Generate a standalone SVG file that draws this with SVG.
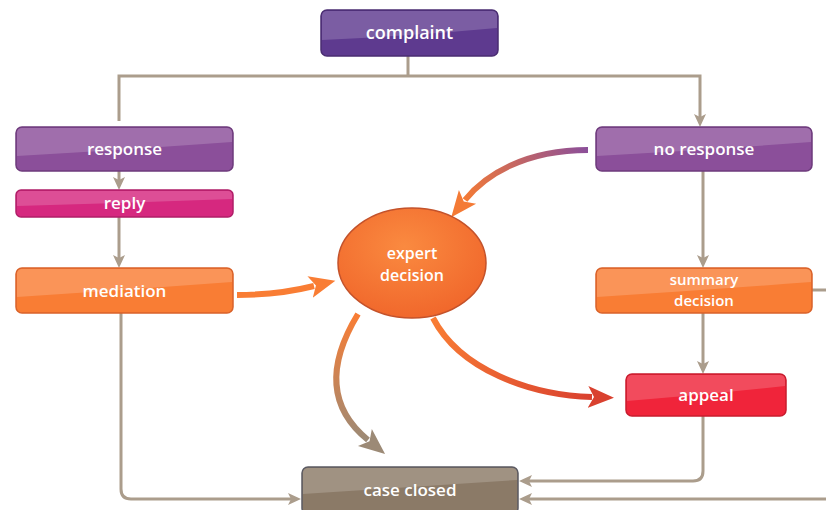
<svg xmlns="http://www.w3.org/2000/svg" width="826" height="510" viewBox="0 0 826 510">
<style>
.lbl{font-family:"Open Sans","Liberation Sans",sans-serif;font-weight:600;fill:#ffffff;text-anchor:middle;}
.gl{fill:none;stroke:#ab9d8c;stroke-width:3;}
.node{stroke-width:1.5;}
.gloss{fill:#ffffff;opacity:0.18;}
</style>
<defs>
<marker id="ga" markerUnits="userSpaceOnUse" markerWidth="16" markerHeight="14" viewBox="0 -7 16 14" refX="7" refY="0" orient="auto">
<path d="M0,-6 L13,0 L0,6 L3,0 z" fill="#ab9d8c"/>
</marker>
<marker id="ap" markerUnits="userSpaceOnUse" markerWidth="30" markerHeight="26" viewBox="0 -13 30 26" refX="4" refY="0" orient="auto">
<path d="M0,-11 L26,0 L0,11 L6,0 z" fill="#f47a35"/>
</marker>
<marker id="ao" markerUnits="userSpaceOnUse" markerWidth="30" markerHeight="26" viewBox="0 -13 30 26" refX="4" refY="0" orient="auto">
<path d="M0,-11 L26,0 L0,11 L6,0 z" fill="#f97d34"/>
</marker>
<marker id="ab" markerUnits="userSpaceOnUse" markerWidth="30" markerHeight="26" viewBox="0 -13 30 26" refX="4" refY="0" orient="auto">
<path d="M0,-11 L26,0 L0,11 L6,0 z" fill="#9c8a76"/>
</marker>
<marker id="ar" markerUnits="userSpaceOnUse" markerWidth="30" markerHeight="26" viewBox="0 -13 30 26" refX="4" refY="0" orient="auto">
<path d="M0,-11 L26,0 L0,11 L6,0 z" fill="#d9412f"/>
</marker>
<linearGradient id="gp" gradientUnits="userSpaceOnUse" x1="588" y1="150" x2="465" y2="200">
<stop offset="0" stop-color="#8b4f9a"/><stop offset="1" stop-color="#f47a35"/>
</linearGradient>
<linearGradient id="gb" gradientUnits="userSpaceOnUse" x1="358" y1="314" x2="368" y2="440">
<stop offset="0" stop-color="#f97d34"/><stop offset="1" stop-color="#9c8a76"/>
</linearGradient>
<linearGradient id="gr" gradientUnits="userSpaceOnUse" x1="433" y1="318" x2="592" y2="397">
<stop offset="0" stop-color="#f97d34"/><stop offset="1" stop-color="#d9412f"/>
</linearGradient>
<radialGradient id="ge" cx="0.45" cy="0.35" r="0.7">
<stop offset="0" stop-color="#fa8a40"/><stop offset="1" stop-color="#f0652a"/>
</radialGradient>
</defs>

<g id="connectors">
<path class="gl" d="M408,56 V76"/>
<path class="gl" d="M119,121 V76 H700 V121" marker-end="url(#ga)"/>
<path class="gl" d="M119,171 V184" marker-end="url(#ga)"/>
<path class="gl" d="M119,217 V262" marker-end="url(#ga)"/>
<path class="gl" d="M121,313 V489 Q121,499 131,499 H295" marker-end="url(#ga)"/>
<path class="gl" d="M703,171 V262" marker-end="url(#ga)"/>
<path class="gl" d="M703,313 V368" marker-end="url(#ga)"/>
<path class="gl" d="M812,290 H826"/>
<path class="gl" d="M703,416 V471 Q703,481 693,481 H525" marker-end="url(#ga)"/>
<path class="gl" d="M826,499 H525" marker-end="url(#ga)"/>
<path d="M588,150 C525,150 485,175 465,200" fill="none" stroke="url(#gp)" stroke-width="6" marker-end="url(#ap)"/>
<path d="M237,295 C265,295 290,292 314,286" fill="none" stroke="#f97d34" stroke-width="6" marker-end="url(#ao)"/>
<path d="M358,314 C330,360 325,405 368,440" fill="none" stroke="url(#gb)" stroke-width="6" marker-end="url(#ab)"/>
<path d="M433,318 C460,370 530,395 592,397" fill="none" stroke="url(#gr)" stroke-width="6" marker-end="url(#ar)"/>
</g>

<g id="complaint">
<rect class="node" x="321" y="10" width="177" height="46" rx="6" fill="#5e3a8f" stroke="#4a2d72"/>
<path class="gloss" d="M327,11 H492 Q497,11 497,16 V28 Q410,36 322,40 V16 Q322,11 327,11 z"/>
<text class="lbl" x="409.5" y="39" font-size="18">complaint</text>
</g>

<g id="response">
<rect class="node" x="16" y="127" width="217" height="44" rx="6" fill="#8b4f9a" stroke="#6e3b7c"/>
<path class="gloss" d="M22,128 H227 Q232,128 232,133 V142 Q125,150 17,156 V133 Q17,128 22,128 z"/>
<text class="lbl" x="124.5" y="155" font-size="17">response</text>
</g>

<g id="reply">
<rect class="node" x="16" y="190" width="217" height="27" rx="5" fill="#d6287f" stroke="#b01e68"/>
<path class="gloss" d="M21,191 H228 Q232,191 232,195 V199 Q125,203 17,206 V195 Q17,191 21,191 z"/>
<text class="lbl" x="124.5" y="209" font-size="17">reply</text>
</g>

<g id="mediation">
<rect class="node" x="16" y="268" width="217" height="45" rx="6" fill="#f97d34" stroke="#d9622a"/>
<path class="gloss" d="M22,269 H227 Q232,269 232,274 V282 Q125,290 17,297 V274 Q17,269 22,269 z"/>
<text class="lbl" x="124.5" y="297" font-size="17">mediation</text>
</g>

<g id="no-response">
<rect class="node" x="596" y="127" width="216" height="44" rx="6" fill="#8b4f9a" stroke="#6e3b7c"/>
<path class="gloss" d="M602,128 H806 Q811,128 811,133 V142 Q705,150 597,156 V133 Q597,128 602,128 z"/>
<text class="lbl" x="704" y="155" font-size="17">no response</text>
</g>

<g id="summary-decision">
<rect class="node" x="596" y="268" width="216" height="45" rx="6" fill="#f97d34" stroke="#d9622a"/>
<path class="gloss" d="M602,269 H806 Q811,269 811,274 V282 Q705,290 597,297 V274 Q597,269 602,269 z"/>
<text class="lbl" x="704" y="285" font-size="15">summary</text>
<text class="lbl" x="704" y="306" font-size="15">decision</text>
</g>

<g id="expert-decision">
<ellipse cx="412" cy="263" rx="74" ry="55" fill="url(#ge)" stroke="#c4522a" stroke-width="1.5"/>
<text class="lbl" x="412" y="259" font-size="16">expert</text>
<text class="lbl" x="412" y="281" font-size="16">decision</text>
</g>

<g id="appeal">
<rect class="node" x="626" y="374" width="160" height="42" rx="6" fill="#f0243a" stroke="#c81c2e"/>
<path class="gloss" d="M632,375 H780 Q785,375 785,380 V386 Q705,395 627,401 V380 Q627,375 632,375 z"/>
<text class="lbl" x="706" y="401" font-size="17">appeal</text>
</g>

<g id="case-closed">
<rect class="node" x="302" y="467" width="216" height="47" rx="6" fill="#8b7a67" stroke="#5b5a62"/>
<path class="gloss" d="M308,468 H512 Q517,468 517,473 V480 Q410,487 303,494 V473 Q303,468 308,468 z"/>
<text class="lbl" x="410" y="496" font-size="17">case closed</text>
</g>
</svg>
